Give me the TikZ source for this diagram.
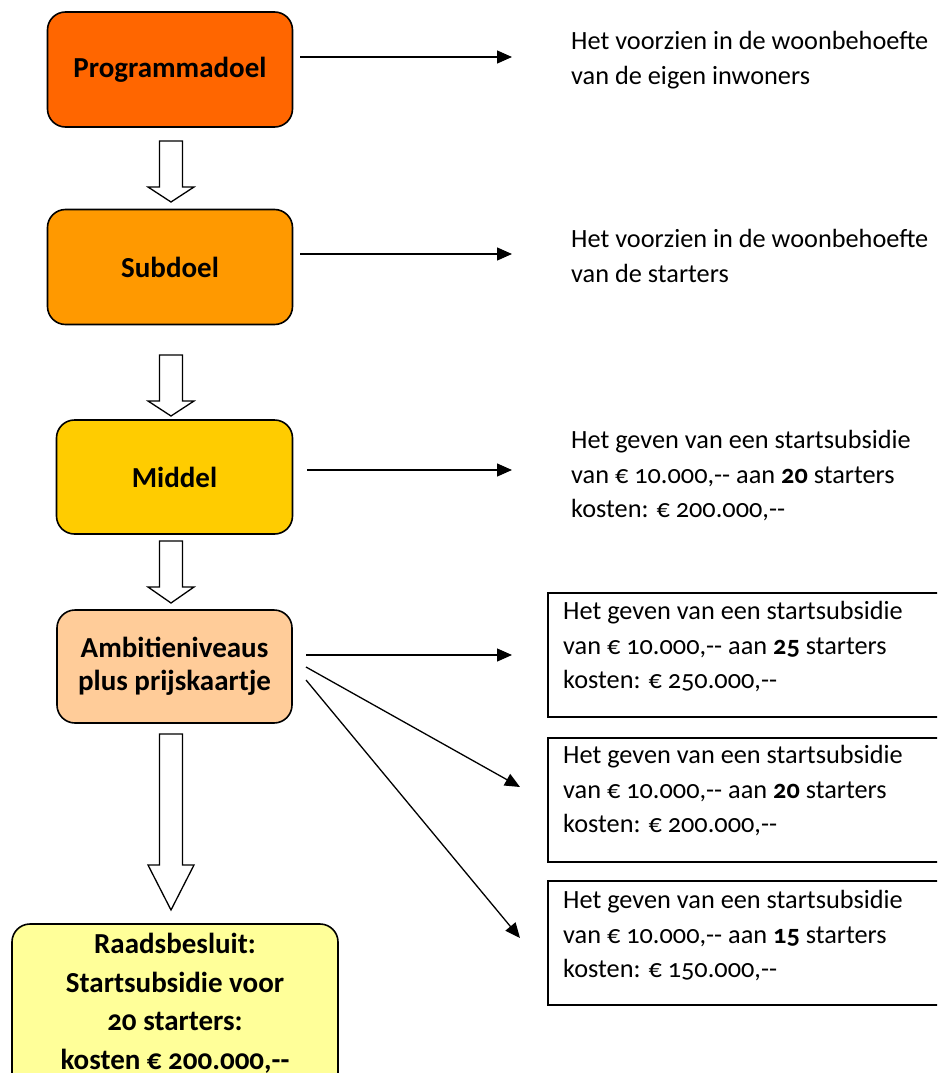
\documentclass[tikz,border=0pt]{standalone}
\usepackage{fontspec}
\setmainfont{Carlito}[Numbers=OldStyle,Ligatures=TeXOff]
\usetikzlibrary{arrows.meta}
\definecolor{cprog}{HTML}{FF6600}
\definecolor{csub}{HTML}{FF9900}
\definecolor{cmid}{HTML}{FFCC00}
\definecolor{camb}{HTML}{FFCC99}
\definecolor{craad}{HTML}{FFFF99}
\newcommand{\blkarrow}[3]{%
  \draw[blockarrow] (159.5,#1) -- (182.5,#1) -- (182.5,#2) -- (194,#2) -- (171,#3) -- (148,#2) -- (159.5,#2) -- cycle;}
\begin{document}
\begin{tikzpicture}[x=1pt,y=-1pt,
  goal/.style={draw, line width=1.6pt, rounded corners=18pt, align=center, text=black,
    font=\bfseries\fontsize{29}{33}\selectfont, inner sep=0pt},
  optbox/.style={draw, line width=1.6pt, anchor=north west, minimum width=420pt, minimum height=124pt, inner sep=0pt},
  desc/.style={anchor=west, align=left, inner sep=0pt, font=\fontsize{26.3}{34.5}\selectfont},
  conn/.style={line width=1.3pt, -{Triangle[length=15pt,width=13pt]}},
  blockarrow/.style={draw, line width=1.3pt, fill=white}]
\clip (0,0) rectangle (937,1073);
\fill[white] (0,0) rectangle (937,1073);

% main column boxes
\node[goal, fill=cprog, minimum width=245pt, minimum height=115pt] (prog) at (170,69.5) {Programmadoel};
\node[goal, fill=csub, minimum width=245pt, minimum height=115pt] (sub) at (170,267) {Subdoel};
\node[goal, fill=cmid, minimum width=236pt, minimum height=114pt] (mid) at (174.5,477) {Middel};
\node[goal, fill=camb, minimum width=235pt, minimum height=113pt] (amb) at (174.5,666.5) {Ambitieniveaus\\plus prijskaartje};
\node[goal, fill=craad, minimum width=326pt, minimum height=190pt] (raad) at (175,1019) {};
\node[font=\bfseries\fontsize{29}{38.5}\selectfont, align=center, anchor=north, inner sep=0pt] (raadtxt) at (175,933) {Raadsbesluit:\\Startsubsidie voor\\20 starters:\\kosten € 200.000,--};

% block arrows between boxes
\blkarrow{141}{187}{202}
\blkarrow{355}{401}{416}
\blkarrow{541}{587}{603}
\blkarrow{734}{865}{910}

% descriptions
\node[desc] (d1) at (571,60) {Het voorzien in de woonbehoefte\\van de eigen inwoners};
\node[desc] (d2) at (571,256) {Het voorzien in de woonbehoefte\\van de starters};
\node[desc] (d3) at (571,476) {Het geven van een startsubsidie\\van € 10.000,-- aan \textbf{20} starters\\kosten: € 200.000,--};

% option boxes
\node[optbox] (o1) at (547,592) {};
\node[optbox] (o2) at (547,737) {};
\node[optbox] (o3) at (547,880) {};
\node[desc] (t1) at (563,647) {Het geven van een startsubsidie\\van € 10.000,-- aan \textbf{25} starters\\kosten: € 250.000,--};
\node[desc] (t2) at (563,791) {Het geven van een startsubsidie\\van € 10.000,-- aan \textbf{20} starters\\kosten: € 200.000,--};
\node[desc] (t3) at (563,936) {Het geven van een startsubsidie\\van € 10.000,-- aan \textbf{15} starters\\kosten: € 150.000,--};

% connector ends
\coordinate (a1s) at (300,57);  \coordinate (a1e) at (512,57);
\coordinate (a2s) at (300,254); \coordinate (a2e) at (512,254);
\coordinate (a3s) at (307,470); \coordinate (a3e) at (512,470);
\coordinate (a4s) at (306,655); \coordinate (a4e) at (512,655);
\coordinate (a5s) at (306,667); \coordinate (a5e) at (520,787);
\coordinate (a6s) at (306,680); \coordinate (a6e) at (520,938);
\draw[conn] (a1s) -- (a1e);
\draw[conn] (a2s) -- (a2e);
\draw[conn] (a3s) -- (a3e);
\draw[conn] (a4s) -- (a4e);
\draw[conn] (a5s) -- (a5e);
\draw[conn] (a6s) -- (a6e);
\end{tikzpicture}
\end{document}
